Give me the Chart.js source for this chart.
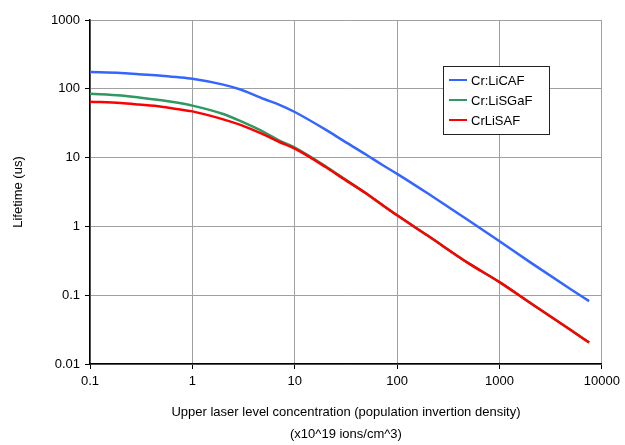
<!DOCTYPE html>
<html>
<head>
<meta charset="utf-8">
<script src="https://cdn.jsdelivr.net/npm/chart.js@4"></script>
<style>
  html, body { margin: 0; padding: 0; background: #fff; }
  #wrap { position: relative; width: 625px; height: 445px; }
</style>
</head>
<body>
<div id="wrap"><canvas id="chart" width="625" height="445"></canvas></div>
<script>
// concentration (x10^19 ions/cm^3)
const conc = [0.1, 0.2, 0.3, 0.5, 0.7, 1, 2, 3, 5, 7, 10, 20, 30, 50, 70, 100, 200, 500, 1000, 2000, 5000, 7500];
// lifetime (us)
const liCAF  = [175, 170, 163, 155, 148, 140, 115, 97, 71, 59, 46, 25.5, 17.5, 11, 8, 5.8, 3.0, 1.22, 0.61, 0.30, 0.121, 0.082];
const liSGaF = [85, 80, 75, 68, 63, 57, 43, 33.5, 23.5, 17.8, 14, 7.5, 5.0, 3.0, 2.1, 1.45, 0.73, 0.29, 0.155, 0.077, 0.031, 0.0205];
const liSAF  = [65, 62, 59, 55, 51, 47, 36, 29.6, 21.5, 17, 13.5, 7.3, 4.9, 3.0, 2.1, 1.45, 0.73, 0.29, 0.155, 0.077, 0.031, 0.0205];
const seriesNames = ['Cr:LiCAF', 'Cr:LiSGaF', 'CrLiSAF'];
const seriesColors = ['#3366ff', '#2e9960', '#ff0000'];

function pts(ys) {
    return conc.map((c, i) => ({x: c, y: ys[i]}));
}

function decadesOnly(scale) {
    scale.ticks = scale.ticks.filter(t => {
        let l = Math.log10(t.value);
        return Math.abs(l - Math.round(l)) < 1e-6;
    });
}

// legend box inside the plot
const boxLegend = {
    id: 'boxLegend',
    afterDraw(chart) {
        const ctx = chart.ctx;
        let x = 443, y = 66, w = 106, h = 68;
        ctx.save();
        ctx.fillStyle = '#fff';
        ctx.fillRect(x, y, w, h);
        ctx.strokeStyle = '#222';
        ctx.lineWidth = 1;
        ctx.strokeRect(x + 0.5, y + 0.5, w, h);
        ctx.font = '13px "Liberation Sans", Arial, sans-serif';
        ctx.textBaseline = 'middle';
        seriesNames.forEach((n, i) => {
            let ly = y + 14 + i * 20;
            ctx.strokeStyle = seriesColors[i];
            ctx.lineWidth = 2;
            ctx.beginPath();
            ctx.moveTo(x + 6, ly);
            ctx.lineTo(x + 24, ly);
            ctx.stroke();
            ctx.fillStyle = '#000';
            ctx.fillText(n, x + 28, ly + 1);
        });
        ctx.restore();
    }
};

Chart.defaults.font.family = '"Liberation Sans", Arial, sans-serif';
Chart.defaults.font.size = 13;
Chart.defaults.color = '#000';

new Chart(document.getElementById('chart'), {
    type: 'line',
    data: {
        // first dataset is painted last, so red sits on top of green
        datasets: [
            {label: seriesNames[2], data: pts(liSAF), borderColor: seriesColors[2]},
            {label: seriesNames[1], data: pts(liSGaF), borderColor: seriesColors[1]},
            {label: seriesNames[0], data: pts(liCAF), borderColor: seriesColors[0]}
        ].map(d => Object.assign(d, {borderWidth: 2.5, pointRadius: 0, cubicInterpolationMode: 'monotone', fill: false}))
    },
    options: {
        responsive: false,
        animation: false,
        layout: {padding: {top: 20, right: 23, left: 0, bottom: 0}},
        plugins: {legend: {display: false}, tooltip: {enabled: false}},
        scales: {
            x: {
                type: 'logarithmic',
                min: 0.1, max: 10000,
                afterBuildTicks: decadesOnly,
                afterFit(s) { s.height = 81; },
                grid: {color: '#a0a0a0', tickColor: '#000', tickLength: 5},
                border: {color: '#000', width: 1.5},
                ticks: {maxRotation: 0, padding: 5, callback: v => String(v)},
                title: {
                    display: true,
                    text: ['Upper laser level concentration (population invertion density)', '(x10^19 ions/cm^3)'],
                    font: {size: 13, lineHeight: 1.65},
                    padding: {top: 4, bottom: 0}
                }
            },
            y: {
                type: 'logarithmic',
                min: 0.01, max: 1000,
                afterBuildTicks: decadesOnly,
                afterFit(s) { s.width = 90; },
                grid: {color: '#a0a0a0', tickColor: '#000', tickLength: 5},
                border: {color: '#000', width: 1.5},
                ticks: {padding: 5, callback: v => String(v)},
                title: {display: true, text: 'Lifetime (us)', padding: {top: 11, bottom: 10}}
            }
        }
    },
    plugins: [boxLegend]
});
</script>
</body>
</html>
